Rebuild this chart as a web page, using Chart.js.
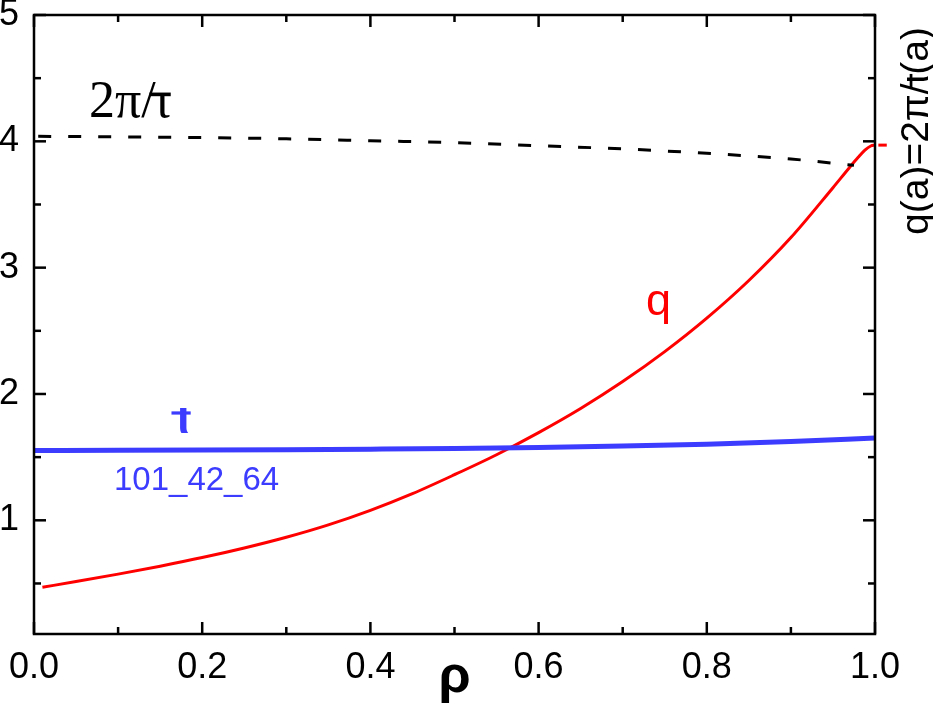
<!DOCTYPE html>
<html>
<head>
<meta charset="utf-8">
<script src="https://cdn.jsdelivr.net/npm/chart.js@4.4.1/dist/chart.umd.min.js"></script>
<style>
    html, body { margin: 0; padding: 0; background: #fff; }
    #wrap { width: 933px; height: 707px; }
</style>
</head>
<body>
<div id="wrap"><canvas id="profileChart" width="933" height="707"></canvas></div>
<script>
// Data
const rhoQ = [0.01, 0.05, 0.1, 0.15, 0.2, 0.25, 0.3, 0.35, 0.4, 0.45, 0.5, 0.55, 0.6, 0.65, 0.7, 0.75, 0.8, 0.85, 0.9, 0.95, 0.97, 0.98, 0.988, 0.995, 1.0];
const qValues = [0.47, 0.515, 0.574, 0.637, 0.705, 0.781, 0.866, 0.964, 1.079, 1.211, 1.361, 1.519, 1.694, 1.885, 2.098, 2.335, 2.6, 2.898, 3.238, 3.633, 3.795, 3.873, 3.93, 3.963, 3.97];

const rhoIota = [0, 0.1, 0.2, 0.3, 0.4, 0.5, 0.6, 0.7, 0.8, 0.9, 1.0];
const iotaValues = [1.553, 1.554, 1.556, 1.559, 1.563, 1.568, 1.576, 1.588, 1.603, 1.624, 1.651];

const rhoRatio = [0.005, 0.1, 0.2, 0.3, 0.4, 0.5, 0.6, 0.7, 0.8, 0.9, 0.975];
const ratioValues = [4.04, 4.035, 4.03, 4.02, 4.005, 3.99, 3.965, 3.94, 3.905, 3.86, 3.81];

// short red mark just outside the right axis: q(a)
const qEdgeRho = [1.004, 1.014];
const qEdgeValues = [3.97, 3.97];

// Axes
const xMajorTicks = [0, 0.2, 0.4, 0.6, 0.8, 1.0];
const xTickLabels = ['0.0', '0.2', '0.4', '0.6', '0.8', '1.0'];
const xMinorTicks = [0.1, 0.3, 0.5, 0.7, 0.9];
const yMajorTicks = [1, 2, 3, 4, 5];
const yTickLabels = ['1', '2', '3', '4', '5'];
const yMinorTicks = [0.5, 1.5, 2.5, 3.5, 4.5];

const SANS = '"Liberation Sans", Arial, sans-serif';
const SERIF = '"Liberation Serif", "Times New Roman", serif';
const BLUE = 'rgb(60, 60, 255)';
const RED = 'rgb(255, 0, 0)';

function toPoints(xs, ys) {
    return xs.map((x, i) => ({ x: x, y: ys[i] }));
}

// Draws text left-aligned at (x, y) and puts the bar across every ι (rotational transform)
function fillIotaText(ctx, text, x, y, size) {
    ctx.textAlign = 'left';
    ctx.fillText(text, x, y);
    for (let i = 0; i < text.length; i++) {
        if (text[i] !== '\u03B9') continue;
        const left = x + ctx.measureText(text.slice(0, i)).width;
        const w = ctx.measureText('\u03B9').width;
        ctx.fillRect(left - 0.12 * size, y - 0.47 * size, w + 0.14 * size, 0.07 * size);
    }
}

// Frame, inward ticks and text labels
const framePlugin = {
    id: 'frame',
    afterDraw(chart) {
        const { ctx, chartArea: a, scales: { x, y } } = chart;
        ctx.save();
        ctx.strokeStyle = '#000';
        ctx.lineWidth = 2.5;
        ctx.strokeRect(a.left, a.top, a.right - a.left, a.bottom - a.top);

        const tick = (x1, y1, x2, y2) => {
            ctx.beginPath();
            ctx.moveTo(x1, y1);
            ctx.lineTo(x2, y2);
            ctx.stroke();
        };
        const major = 12, minor = 7;
        xMajorTicks.forEach(v => {
            const px = x.getPixelForValue(v);
            tick(px, a.bottom, px, a.bottom - major);
            tick(px, a.top, px, a.top + major);
        });
        xMinorTicks.forEach(v => {
            const px = x.getPixelForValue(v);
            tick(px, a.bottom, px, a.bottom - minor);
            tick(px, a.top, px, a.top + minor);
        });
        yMajorTicks.forEach(v => {
            const py = y.getPixelForValue(v);
            tick(a.left, py, a.left + major, py);
            tick(a.right, py, a.right - major, py);
        });
        yMinorTicks.forEach(v => {
            const py = y.getPixelForValue(v);
            tick(a.left, py, a.left + minor, py);
            tick(a.right, py, a.right - minor, py);
        });

        // curve labels
        ctx.textBaseline = 'alphabetic';
        ctx.fillStyle = '#000';
        ctx.font = '52px ' + SERIF;
        fillIotaText(ctx, '2\u03C0/\u03B9', 89, 117, 52);

        ctx.fillStyle = RED;
        ctx.font = '45px ' + SANS;
        ctx.textAlign = 'left';
        ctx.fillText('q', 646, 315);

        ctx.fillStyle = BLUE;
        ctx.font = 'bold 46px ' + SANS;
        fillIotaText(ctx, '\u03B9', 177, 433, 46);
        ctx.font = '33px ' + SANS;
        ctx.fillText('101_42_64', 114, 490);

        // rotated right-hand note
        ctx.fillStyle = '#000';
        ctx.font = '39px ' + SANS;
        const note = 'q(a)=2\u03C0/\u03B9(a)';
        ctx.translate(928, 131);
        ctx.rotate(-Math.PI / 2);
        fillIotaText(ctx, note, -ctx.measureText(note).width / 2, 0, 39);
        ctx.restore();
    }
};

function noScalePadding(scale) {
    scale.paddingTop = 0;
    scale.paddingBottom = 0;
    scale.paddingLeft = 0;
    scale.paddingRight = 0;
}

const ctx = document.getElementById('profileChart').getContext('2d');

const profileChart = new Chart(ctx, {
    type: 'line',
    data: {
        datasets: [
            {
                label: '2π/ι',
                data: toPoints(rhoRatio, ratioValues),
                borderColor: '#000',
                borderWidth: 3,
                borderDash: [13, 17],
                pointRadius: 0,
                cubicInterpolationMode: 'monotone'
            },
            {
                label: 'ι',
                data: toPoints(rhoIota, iotaValues),
                borderColor: BLUE,
                borderWidth: 5,
                pointRadius: 0,
                cubicInterpolationMode: 'monotone'
            },
            {
                label: 'q',
                data: toPoints(rhoQ, qValues),
                borderColor: RED,
                borderWidth: 3,
                pointRadius: 0,
                cubicInterpolationMode: 'monotone'
            },
            {
                label: 'q(a)',
                data: toPoints(qEdgeRho, qEdgeValues),
                borderColor: RED,
                borderWidth: 3,
                pointRadius: 0,
                clip: false
            }
        ]
    },
    options: {
        responsive: false,
        animation: false,
        devicePixelRatio: 1,
        layout: {
            padding: { top: 15, right: 58, left: 0, bottom: 0 }
        },
        plugins: {
            legend: { display: false },
            tooltip: { enabled: false },
            title: { display: false }
        },
        scales: {
            x: {
                type: 'linear',
                min: 0,
                max: 1,
                grid: { display: false, drawTicks: false },
                border: { display: false },
                afterBuildTicks: scale => {
                    scale.ticks = xMajorTicks.map(v => ({ value: v }));
                },
                afterFit: scale => {
                    scale.height = 73;
                    noScalePadding(scale);
                },
                ticks: {
                    autoSkip: false,
                    maxRotation: 0,
                    padding: 12,
                    color: '#000',
                    font: { family: SANS, size: 36 },
                    callback: (value, index) => xTickLabels[index]
                },
                title: {
                    display: true,
                    text: 'ρ',
                    color: '#000',
                    font: { family: SANS, size: 52, weight: 'bold', lineHeight: 1 },
                    padding: { top: 0, bottom: 3 }
                }
            },
            y: {
                type: 'linear',
                min: 0.1,
                max: 5,
                grid: { display: false, drawTicks: false },
                border: { display: false },
                afterBuildTicks: scale => {
                    scale.ticks = yMajorTicks.map(v => ({ value: v }));
                },
                afterFit: scale => {
                    scale.width = 34;
                    noScalePadding(scale);
                },
                ticks: {
                    autoSkip: false,
                    padding: 15,
                    color: '#000',
                    font: { family: SANS, size: 36 },
                    callback: (value, index) => yTickLabels[index]
                }
            }
        }
    },
    plugins: [framePlugin]
});
</script>
</body>
</html>
